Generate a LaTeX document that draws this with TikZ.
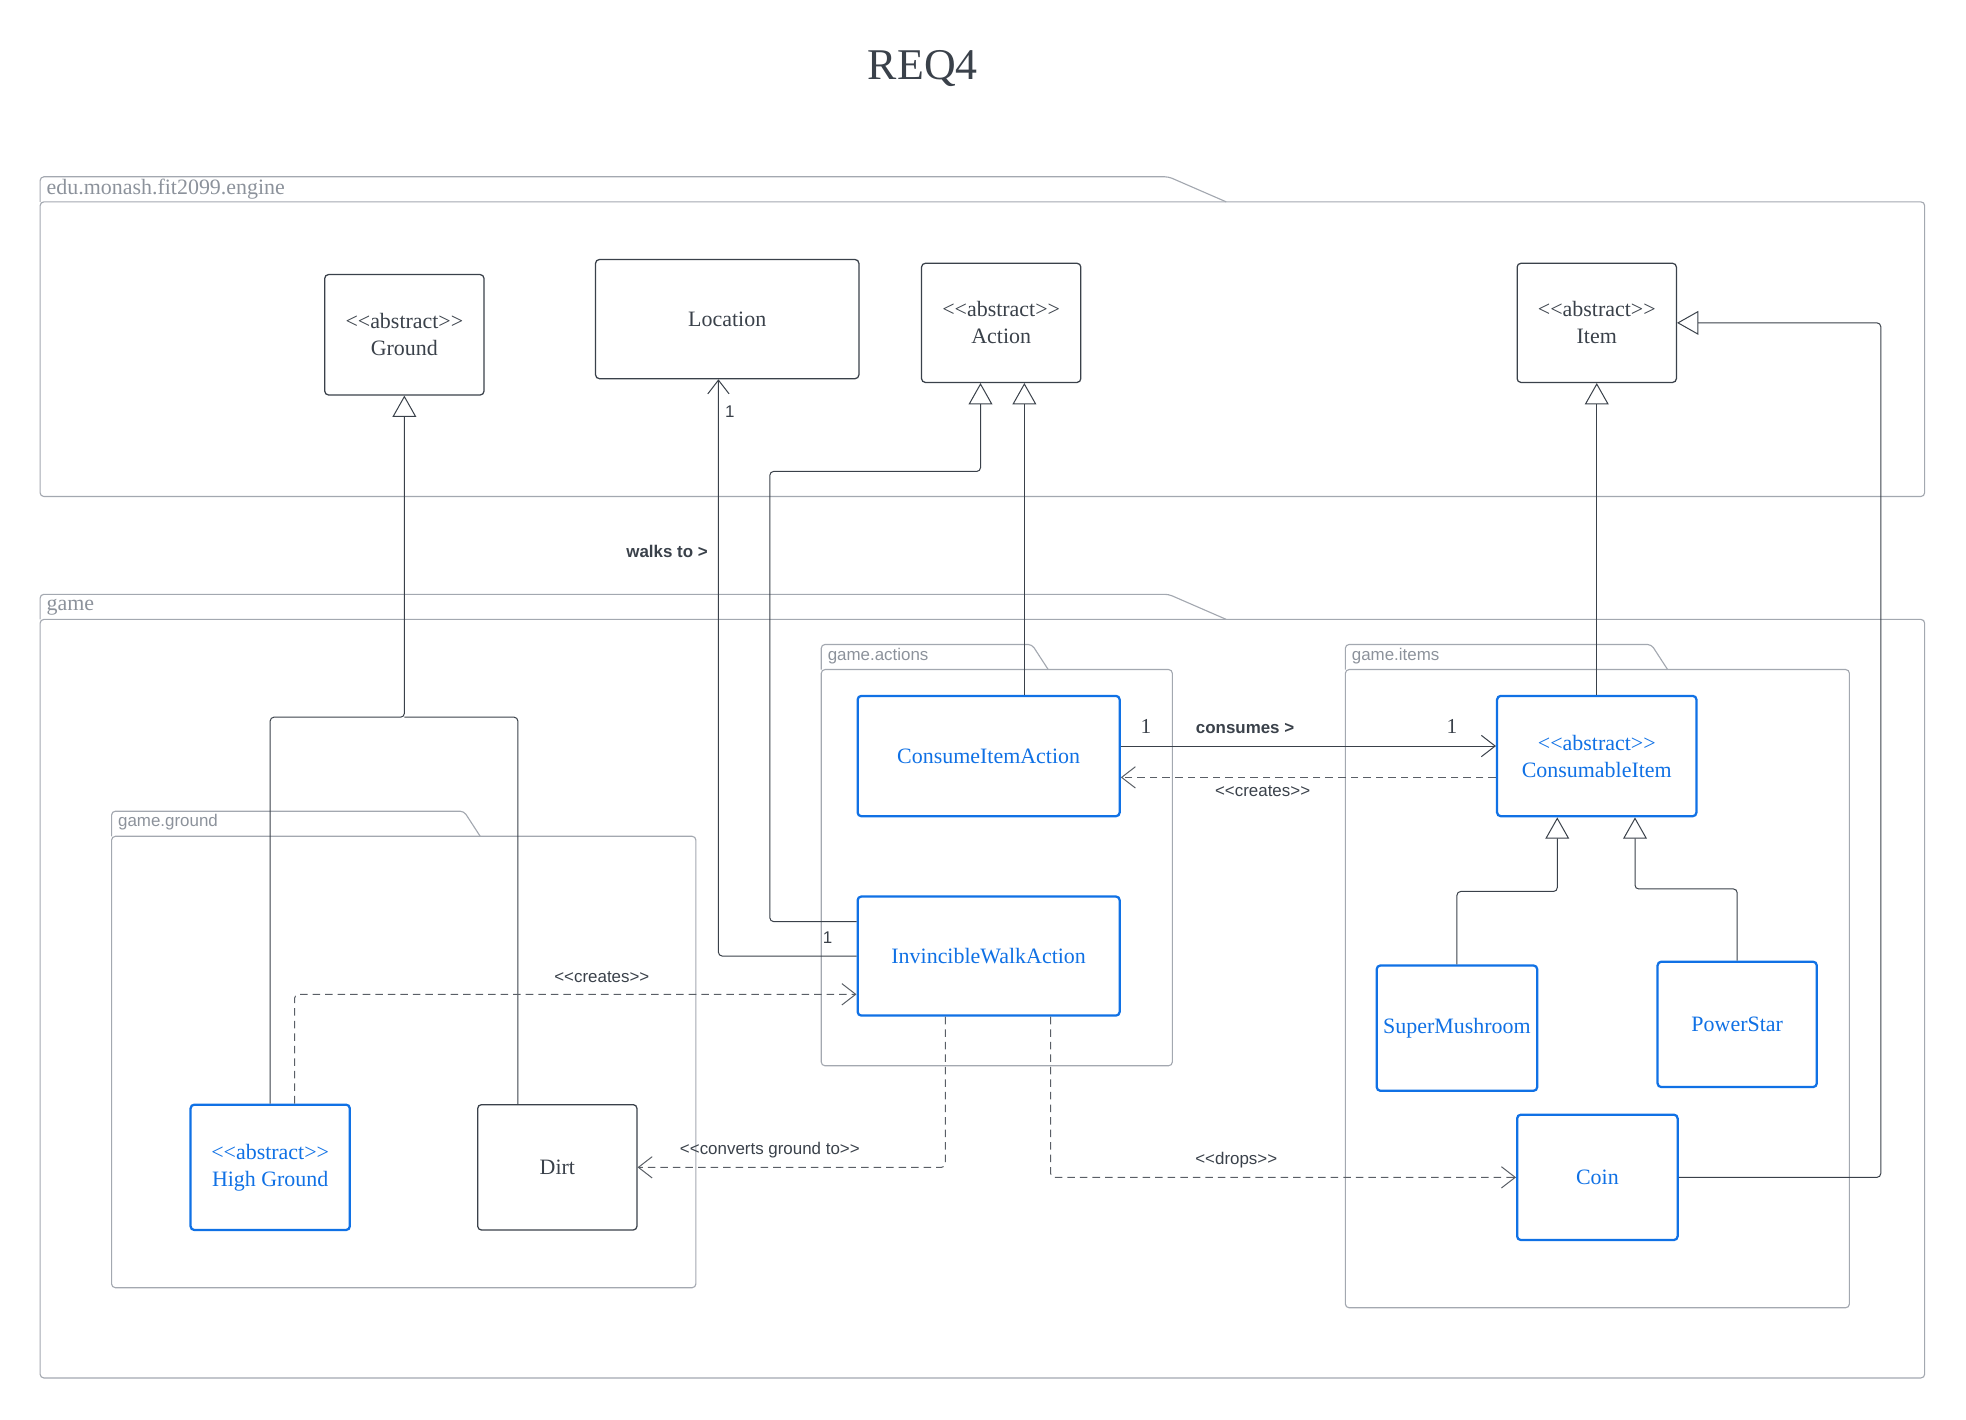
\documentclass[tikz,border=0pt]{standalone}
\usepackage{fontspec}
\setmainfont{Liberation Serif}[Ligatures=TeXOff]
\setsansfont{Liberation Sans}[Ligatures=TeXOff]
\usetikzlibrary{arrows.meta, positioning}
\definecolor{ink}{HTML}{3A414A}
\definecolor{pkggray}{HTML}{A3A8B0}
\definecolor{pkgtext}{HTML}{8C929B}
\definecolor{lucidblue}{HTML}{1071E5}
\definecolor{dashgray}{HTML}{5A5F66}

\begin{document}
\begin{tikzpicture}[x=1pt, y=-1pt,
        cls/.style = {draw=ink, line width=1pt, rounded corners=3pt, fill=white, text=ink, align=center,
            inner sep=0pt, minimum width=127pt, minimum height=96pt, font=\fontsize{17.5}{21.5}\selectfont},
        bluecls/.style = {cls, draw=lucidblue, text=lucidblue, line width=1.8pt},
        pkg/.style = {draw=pkggray, line width=0.9pt, rounded corners=3pt},
        pkglbl/.style = {anchor=west, inner sep=0pt, text=pkgtext, font=\fontsize{17.5}{20}\selectfont},
        subpkglbl/.style = {anchor=west, inner sep=0pt, text=pkgtext, font=\sffamily\fontsize{13.5}{16}\selectfont},
        lbl/.style = {inner sep=0pt, text=ink, font=\sffamily\fontsize{13.5}{16}\selectfont},
        mult/.style = {inner sep=0pt, text=ink, font=\fontsize{17}{20}\selectfont},
        link/.style = {draw=ink, line width=0.8pt, rounded corners=3pt},
        gen/.style = {link, -{Triangle[length=17pt, width=19pt, fill=white]}},
        assoc/.style = {link, -{Straight Barb[length=11pt, width=17pt]}},
        dep/.style = {draw=dashgray, line width=0.8pt, rounded corners=3pt, dash pattern=on 6pt off 4pt,
            -{Straight Barb[length=11pt, width=17pt]}}]
    \useasboundingbox (0,0) rectangle (1568,1132);

    \node[text=ink, inner sep=0pt, font=\fontsize{35}{40}\selectfont] (title) at (736,55) {REQ4};

    % packages
    \draw[pkg] (32,161) |- (932,141) -- (978,161);
    \draw[pkg] (32,161) rectangle (1535,396);
    \node[pkglbl] (enginelbl) at (37,151) {edu.monash.fit2099.engine};

    \draw[pkg] (32,494) |- (932,474) -- (978,494);
    \draw[pkg] (32,494) rectangle (1535,1099);
    \node[pkglbl] (gamelbl) at (37,484) {game};

    \draw[pkg] (655,534) |- (823,514) -- (836,534);
    \draw[pkg] (655,534) rectangle (935,850);
    \node[subpkglbl] (actionslbl) at (660,523) {game.actions};

    \draw[pkg] (1073,534) |- (1317,514) -- (1330,534);
    \draw[pkg] (1073,534) rectangle (1475,1043);
    \node[subpkglbl] (itemslbl) at (1078,523) {game.items};

    \draw[pkg] (89,667) |- (370,647) -- (383,667);
    \draw[pkg] (89,667) rectangle (555,1027);
    \node[subpkglbl] (groundlbl) at (94,656) {game.ground};

    % classes
    \node[cls] (ground) at (322.5,267) {<<abstract>>\\Ground};
    \node[cls, minimum width=210pt, minimum height=95pt] (location) at (580,254.5) {Location};
    \node[cls, minimum height=95pt] (action) at (798.5,257.5) {<<abstract>>\\Action};
    \node[cls, minimum height=95pt] (item) at (1273.5,257.5) {<<abstract>>\\Item};

    \node[bluecls, minimum width=209pt] (cia) at (788.5,603) {ConsumeItemAction};
    \node[bluecls, minimum width=209pt, minimum height=95pt] (iwa) at (788.5,762.5) {InvincibleWalkAction};

    \node[bluecls, minimum width=159pt] (ci) at (1273.5,603) {<<abstract>>\\ConsumableItem};
    \node[bluecls, minimum width=128pt, minimum height=100pt] (sm) at (1162,820) {SuperMushroom};
    \node[bluecls, minimum height=100pt] (ps) at (1385.5,817) {PowerStar};
    \node[bluecls, minimum width=128pt, minimum height=100pt] (coin) at (1274,939) {Coin};

    \node[bluecls, minimum height=100pt] (hg) at (215.5,931) {<<abstract>>\\High Ground};
    \node[cls, minimum height=100pt] (dirt) at (444.5,931) {Dirt};

    % connectors
    \coordinate (gj) at (322.5,572);
    \draw[gen] (hg.north) |- (gj) -- (ground.south);
    \draw[link] ([xshift=-31.5pt]dirt.north) |- (gj);

    \draw[gen] ([yshift=27.5pt]iwa.west) -| (614,376) -| ([xshift=-16.5pt]action.south);
    \draw[gen] ([xshift=28.5pt]cia.north) -- ([xshift=28.5pt]cia.north |- action.south);

    \draw[assoc] (iwa.west) -| ([xshift=-7pt]location.south);
    \node[lbl] (locmult) at (582,328) {1};
    \node[lbl] (iwamult) at (660,748) {1};
    \node[lbl, font=\sffamily\bfseries\fontsize{13.5}{16}\selectfont] (walksto) at (532,440) {walks to >};

    \draw[gen] (ci.north) -- (item.south);
    \coordinate (itemrail) at (1500,257.5);
    \draw[gen] (coin.east) -| (itemrail) -- (item.east);

    \coordinate (smj) at (1242,711);
    \coordinate (psj) at (1304,709);
    \draw[gen] (sm.north) |- (smj) -- (smj |- ci.south);
    \draw[gen] (ps.north) |- (psj) -- (psj |- ci.south);

    \draw[assoc] ([yshift=8pt]cia.east) -- ([yshift=8pt]ci.west);
    \node[mult] (ciamult) at (914,579) {1};
    \node[mult] (cimult) at (1158,579) {1};
    \node[lbl, font=\sffamily\bfseries\fontsize{13.5}{16}\selectfont] (consumes) at (993,581) {consumes >};

    \draw[dep] ([yshift=-17pt]ci.west) -- ([yshift=-17pt]cia.east);
    \node[lbl] (cicreates) at (1007,631) {<<creates>>};

    \draw[dep] ([xshift=19.5pt]hg.north) |- ([yshift=-30.5pt]iwa.west);
    \node[lbl] (hgcreates) at (480,779) {<<creates>>};

    \draw[dep] ([xshift=-34.5pt]iwa.south) |- (dirt.east);
    \node[lbl] (converts) at (614,917) {<<converts ground to>>};

    \draw[dep] ([xshift=49.5pt]iwa.south) |- (coin.west);
    \node[lbl] (drops) at (986,925) {<<drops>>};
\end{tikzpicture}
\end{document}
